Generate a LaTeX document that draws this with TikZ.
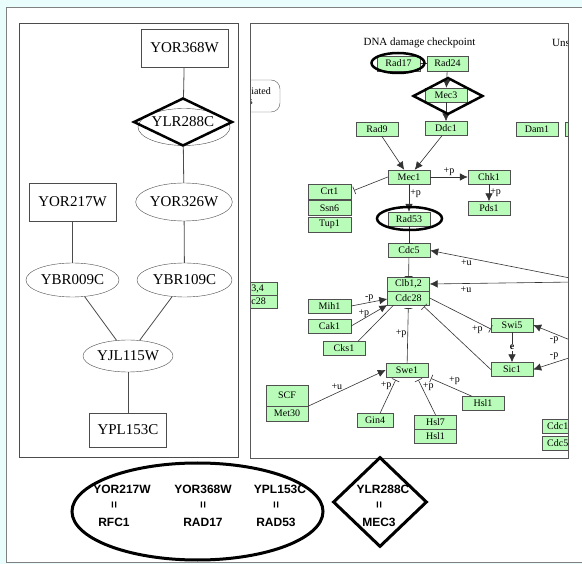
\documentclass[tikz,border=0pt]{standalone}
\usepackage{fontspec}
\setmainfont{Liberation Serif}
\newfontfamily\legendfont{Liberation Sans}
\usetikzlibrary{shapes.geometric,arrows.meta}

\definecolor{bgcyan}{RGB}{234,253,253}
\definecolor{kgreen}{RGB}{185,252,185}
\definecolor{kedge}{RGB}{80,80,80}

\tikzset{
  lbox/.style={draw=black!70, minimum width=87pt, minimum height=38pt, inner sep=0pt, font=\fontsize{15}{15}\selectfont},
  lell/.style={draw=black!70, ellipse, minimum width=93pt, minimum height=34pt, inner sep=0pt, font=\fontsize{15}{15}\selectfont},
  lline/.style={draw=black!70, line width=0.8pt},
  gbox/.style={draw=kedge, fill=kgreen, minimum width=42pt, minimum height=14pt, inner sep=0pt, font=\fontsize{10}{10}\selectfont},
  ring/.style={draw=black, line width=2.5pt, ellipse, inner sep=0pt},
  kite/.style={draw=black, line width=2.5pt, diamond, aspect=2, inner sep=0pt},
  act/.style={draw=black!80, line width=0.6pt, -{Latex[length=8pt,width=7.5pt]}},
  inh/.style={draw=black!80, line width=0.6pt, -{Bar[width=8pt]}},
  lab/.style={font=\fontsize{10}{10}\selectfont, inner sep=1pt},
  keytext/.style={font=\legendfont\bfseries\fontsize{12}{12}\selectfont, inner sep=0pt}
}

\begin{document}
\begin{tikzpicture}[x=1pt, y=-1pt]
  % Background and outer frame
  \useasboundingbox (0,0) rectangle (582,564);
  \fill[bgcyan] (0,0) rectangle (582,564);
  \begin{scope}
    \clip (0,0) rectangle (582,564);
    \draw[fill=white, draw=black!50] (6,7) rectangle (600,562);
  \end{scope}

  % Left panel: interaction graph
  \draw[draw=black!70] (19,23) rectangle (238,457);
  \node[lbox] (yor368w) at (184.5,48) {YOR368W};
  \node[lell, minimum width=92pt, minimum height=37pt] (ylrell) at (184,127) {};
  \node[kite, minimum width=99pt, minimum height=48pt, font=\fontsize{15}{15}\selectfont] (ylr288c) at (183,122) {YLR288C};
  \node[lbox] (yor217w) at (72.5,202) {YOR217W};
  \node[lell, minimum width=96pt, minimum height=38pt] (yor326w) at (184,202) {YOR326W};
  \node[lell] (ybr009c) at (72.5,280) {YBR009C};
  \node[lell, minimum width=95pt] (ybr109c) at (184.5,280) {YBR109C};
  \node[lell, minimum width=90pt, minimum height=32pt] (yjl115w) at (128,356) {YJL115W};
  \node[lbox, minimum width=77pt, minimum height=34pt] (ypl153c) at (128,430) {YPL153C};

  % Edges of the graph
  \draw[lline] (yor368w) -- (ylr288c);
  \draw[lline] (ylr288c) -- (yor326w);
  \draw[lline] (yor217w) -- (ybr009c);
  \draw[lline] (yor326w) -- (ybr109c);
  \draw[lline] (ybr009c) -- (yjl115w);
  \draw[lline] (ybr109c) -- (yjl115w);
  \draw[lline] (yjl115w) -- (ypl153c);

  % Right panel: pathway map
  \begin{scope}
    \clip (250,23) rectangle (568,458);
    \node[lab, font=\fontsize{11}{11}\selectfont] (dnadc) at (419.5,43) {DNA damage checkpoint};
    \node[lab, anchor=west, font=\fontsize{11}{11}\selectfont] (uns) at (551,43) {Uns};
    \draw[draw=black!65, rounded corners=9pt] (220,80) rectangle (280,112);
    \node[lab, anchor=east] (ubq1) at (272,91) {iated};
    \node[lab, anchor=east] (ubq2) at (254,102) {s};

    % Proteins
    \node[gbox, minimum width=43pt, minimum height=15pt] (rad17) at (398.5,63.5) {Rad17};
    \node[gbox, minimum width=41pt, minimum height=15pt] (rad24) at (447.5,63.5) {Rad24};
    \node[gbox] (mec3) at (446,95) {Mec3};
    \node[gbox] (ddc1) at (446,128.5) {Ddc1};
    \node[gbox] (rad9) at (377,129) {Rad9};
    \node[gbox] (dam1) at (537,129) {Dam1};
    \node[gbox] (dam2) at (586,129) {};
    \node[gbox] (mec1) at (409,177) {Mec1};
    \node[gbox] (chk1) at (489,177) {Chk1};
    \node[gbox] (pds1) at (489,208.5) {Pds1};
    \node[gbox, minimum width=43pt, minimum height=15pt] (crt1) at (329.5,191.5) {Crt1};
    \node[gbox, minimum width=43pt, minimum height=15pt] (ssn6) at (329.5,208) {Ssn6};
    \node[gbox, minimum width=43pt, minimum height=15pt] (tup1) at (329.5,224.5) {Tup1};
    \node[gbox] (rad53) at (409,219) {Rad53};
    \node[gbox] (cdc5) at (409,250.5) {Cdc5};
    \node[gbox] (clb12) at (408.5,284) {Clb1,2};
    \node[gbox] (cdc28) at (408.5,298) {Cdc28};
    \node[gbox, minimum height=13pt] (clb34) at (256,288.5) {};
    \node[gbox, minimum height=13pt] (cdc28b) at (256,301.5) {};
    \node[lab, anchor=east] (clb34t) at (265,288.5) {b3,4};
    \node[lab, anchor=east] (cdc28bt) at (267,301.5) {lc28};
    \node[gbox, minimum width=43pt] (mih1) at (329.5,306) {Mih1};
    \node[gbox, minimum width=43pt] (cak1) at (329.5,326) {Cak1};
    \node[gbox] (cks1) at (344,348.5) {Cks1};
    \node[gbox] (swe1) at (407,370) {Swe1};
    \node[gbox, minimum height=21pt] (scf) at (287,395.5) {SCF};
    \node[gbox, minimum height=15pt] (met30) at (287,413.5) {Met30};
    \node[gbox, minimum width=36pt] (gin4) at (375,420.5) {Gin4};
    \node[gbox] (hsl7) at (435.5,422) {Hsl7};
    \node[gbox] (hsl1b) at (435.5,436) {Hsl1};
    \node[gbox] (hsl1) at (483,403.5) {Hsl1};
    \node[gbox] (swi5) at (512,325) {Swi5};
    \node[gbox] (sic1) at (512,369.5) {Sic1};
    \node[gbox] (cdc14) at (563,426) {};
    \node[gbox] (cdc5b) at (563,443) {};
    \node[lab, anchor=west] (cdc14t) at (546,426) {Cdc1};
    \node[lab, anchor=west] (cdc5bt) at (546,443) {Cdc5};

    % Off-map ends
    \coordinate (inu1) at (575,279);
    \coordinate (inu2) at (575,282);
    \coordinate (inp1) at (575,342);
    \coordinate (inp2) at (575,356);

    % Relations
    \draw[draw=black!80, line width=0.6pt] (rad17) -- (rad24);
    \draw[act] (rad24) -- (mec3);
    \draw[act] (mec3) -- (ddc1);
    \draw[act] (rad9) -- (mec1);
    \draw[act] ([xshift=-4pt]ddc1.south) -- (mec1);
    \draw[act] (mec1) -- (chk1) node[lab, midway, above] (pchk1) {+p};
    \draw[act] (chk1) -- (pds1) node[lab, midway, right] (ppds1) {+p};
    \draw[inh, shorten >=3pt] (mec1.west) -- (crt1.east);
    \draw[act] (mec1) -- (rad53) node[lab, pos=0.35, right] (prad53) {+p};
    \draw[inh] (rad53) -- (cdc5);
    \draw[act] (inu1) -- (cdc5.east) node[lab, pos=0.75, below=1pt] (ucdc5) {+u};
    \draw[act] (inu2) -- (clb12.east) node[lab, pos=0.75, below=2pt] (uclb12) {+u};
    \draw[inh] (cdc5) -- (clb12);
    \draw[act] (mih1.east) -- ([yshift=-1pt]cdc28.west) node[lab, midway, above] (pmih1) {-p};
    \draw[act] (cak1.east) -- ([yshift=-7pt]cdc28.west) node[lab, pos=0.35, above] (pcak1) {+p};
    \draw[draw=black!80, line width=0.6pt] ([xshift=14pt]cks1.north) -- ([xshift=-15pt]cdc28.south);
    \draw[inh, shorten >=3pt] (swe1) -- (cdc28) node[lab, midway, left] (pswe1) {+p};
    \draw[act] (scf.south east) -- (swe1.west) node[lab, pos=0.37, above=2pt] (uswe1) {+u};
    \draw[inh, shorten >=3pt] ([xshift=5pt]gin4.north) -- ([xshift=-10pt]swe1.south) node[lab, pos=0.75, left] (pgin4) {+p};
    \draw[inh, shorten >=3pt] (hsl7.north) -- ([xshift=10pt]swe1.south) node[lab, pos=0.75, right] (phsl7) {+p};
    \draw[inh, shorten >=3pt] ([xshift=-11pt]hsl1.north) -- (swe1.south east) node[lab, pos=0.55, above right] (phsl1) {+p};
    \draw[inh] (cdc28.east) -- ([yshift=-4pt]swi5.west) node[lab, pos=0.78, below=2pt] (pswi5) {+p};
    \draw[inh, shorten >=2pt] (sic1.west) -- ([xshift=14pt]cdc28.south);
    \draw[act] (swi5) -- (sic1) node[lab, midway, fill=white, font=\fontsize{10}{10}\selectfont\bfseries] (eswi5) {e};
    \draw[act] (inp1) -- (swi5.east) node[lab, pos=0.5, below=2pt] (pin1) {-p};
    \draw[act] (inp2) -- (sic1.east) node[lab, pos=0.5, above=2pt] (pin2) {-p};

    % Highlight marks
    \node[ring, minimum width=53pt, minimum height=20pt] (rad17ring) at (398,63) {};
    \node[kite, minimum width=70pt, minimum height=37pt] (mec3kite) at (448,96) {};
    \node[ring, minimum width=65pt, minimum height=23pt] (rad53ring) at (409.5,218.5) {};
  \end{scope}
  \draw[draw=black!65] (250,23) rectangle (568,458);

  % Key
  \node[ring, line width=3pt, minimum width=251pt, minimum height=97pt] (keyring) at (197.5,511.5) {};
  \node[kite, line width=3pt, minimum width=94pt, minimum height=90pt] (keykite) at (380,502) {};
  \foreach \xg/\xp/\gene/\prot in {122/114/YOR217W/RFC1, 203/203/YOR368W/RAD17, 280/276/YPL153C/RAD53, 383/379/YLR288C/MEC3}
  {
    \node[keytext] (g\gene) at (\xg,489) {\gene};
    \node[keytext, rotate=90] (e\gene) at (\xp+1,505) {=};
    \node[keytext] (p\gene) at (\xp,522) {\prot};
  }
\end{tikzpicture}
\end{document}
